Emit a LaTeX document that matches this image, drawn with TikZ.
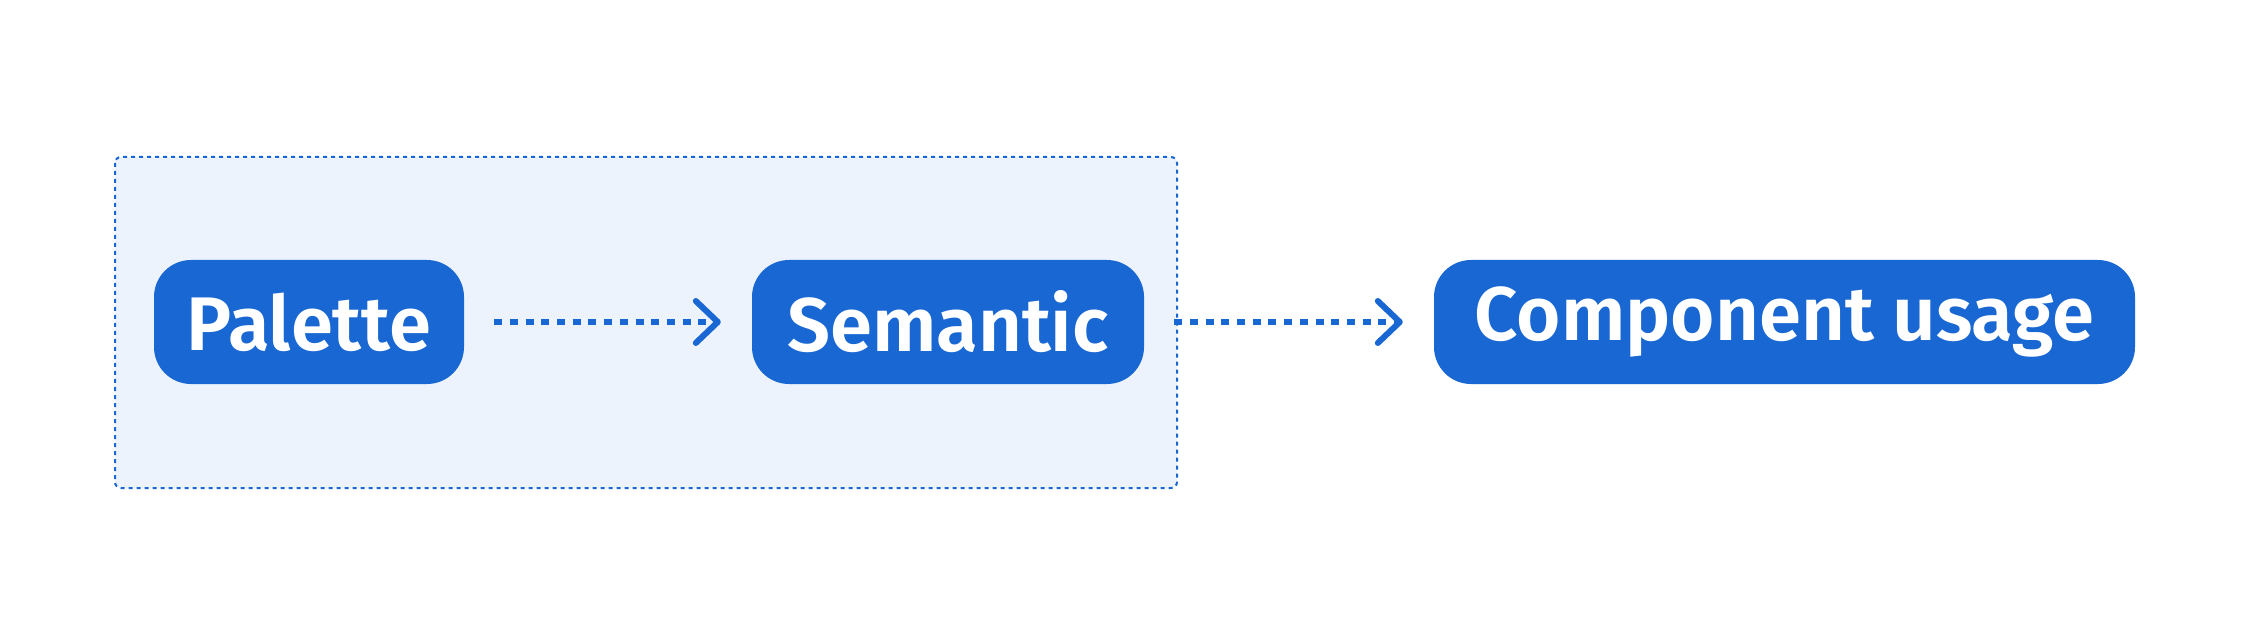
\documentclass[tikz,border=0pt]{standalone}
\usepackage{fontspec}
\newfontfamily\boxfont{Fira Sans SemiBold}
\usetikzlibrary{arrows.meta}
\definecolor{gblue}{HTML}{1967D2}
\definecolor{gpale}{HTML}{ECF3FD}

\begin{document}
\begin{tikzpicture}[x=1pt,y=-1pt,
    pill/.style={fill=gblue, text=white, rounded corners=37pt, minimum height=124pt, inner sep=0pt,
      font=\boxfont\fontsize{76}{80}\selectfont},
    flow/.style={gblue, line width=5.5pt, dash pattern=on 8pt off 7.7pt, shorten <=30pt, shorten >=31pt,
      -{Straight Barb[length=22pt,width=42pt,line width=6pt,round]}}]
        \useasboundingbox (0,0) rectangle (2260,636);

        \draw[gblue, fill=gpale, line width=2pt, dash pattern=on 4pt off 4pt, rounded corners=6pt]
          (115,157) rectangle (1177,488);

        \node[pill, minimum width=310pt] (palette) at (309,322) {Palette};
        \node[pill, minimum width=392pt] (semantic) at (948,322) {Semantic};
        \node[pill, minimum width=701pt] (component) at (1784.5,322) {Component usage};

        \draw[flow] (palette) -- (semantic);
        \draw[flow] (semantic) -- (component);
      \end{tikzpicture}
\end{document}
